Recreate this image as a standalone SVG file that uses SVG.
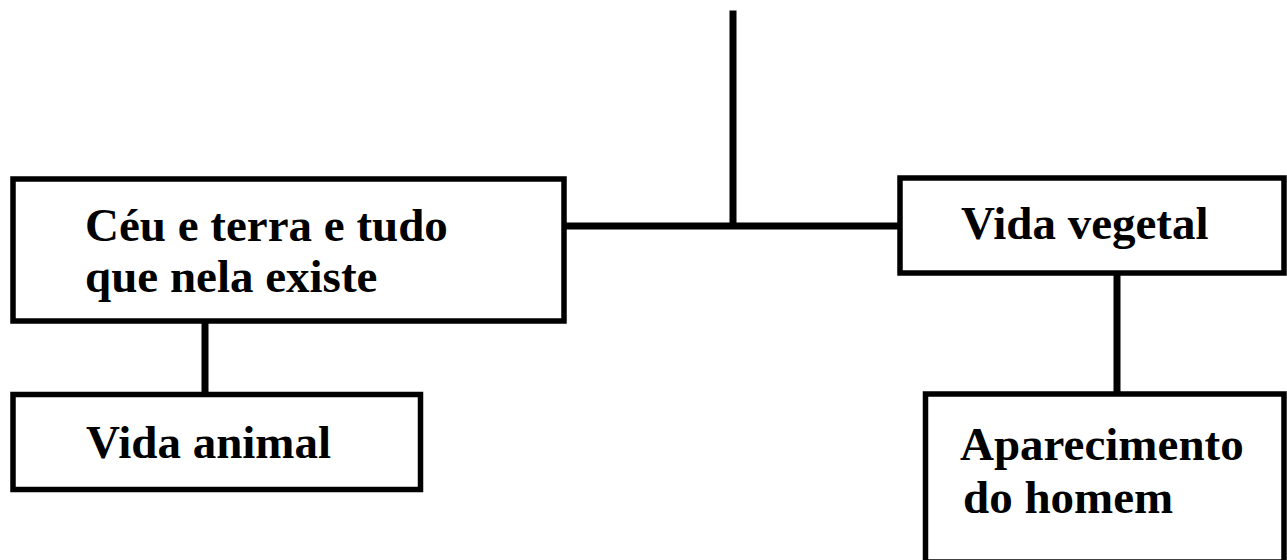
<svg xmlns="http://www.w3.org/2000/svg" width="1287" height="560" viewBox="0 0 1287 560">
<style>
.box{fill:#fff;stroke:#000;stroke-width:5.5}
.ln{stroke:#000;stroke-width:7;fill:none}
.t{font-family:"Liberation Serif","Times New Roman",serif;font-weight:bold;font-size:47px;fill:#000}
</style>
<rect width="1287" height="560" fill="#fff"/>
<g id="connectors">
<line class="ln" x1="733" y1="10.5" x2="733" y2="226"/>
<line class="ln" x1="564" y1="226" x2="900" y2="226"/>
<line class="ln" x1="205" y1="321" x2="205" y2="394"/>
<line class="ln" x1="1117" y1="273" x2="1117" y2="394"/>
</g>
<g id="node-ceu">
<rect class="box" x="13" y="179" width="551" height="142"/>
<text class="t" x="85" y="241">Céu e terra e tudo</text>
<text class="t" x="85" y="292">que nela existe</text>
</g>
<g id="node-vegetal">
<rect class="box" x="900" y="178" width="384" height="95"/>
<text class="t" x="961" y="238.5">Vida vegetal</text>
</g>
<g id="node-animal">
<rect class="box" x="13" y="394.5" width="407.5" height="95"/>
<text class="t" x="86" y="458">Vida animal</text>
</g>
<g id="node-homem">
<rect class="box" x="925.5" y="394" width="358.5" height="168"/>
<text class="t" x="960" y="460">Aparecimento</text>
<text class="t" x="963" y="513">do homem</text>
</g>
</svg>
